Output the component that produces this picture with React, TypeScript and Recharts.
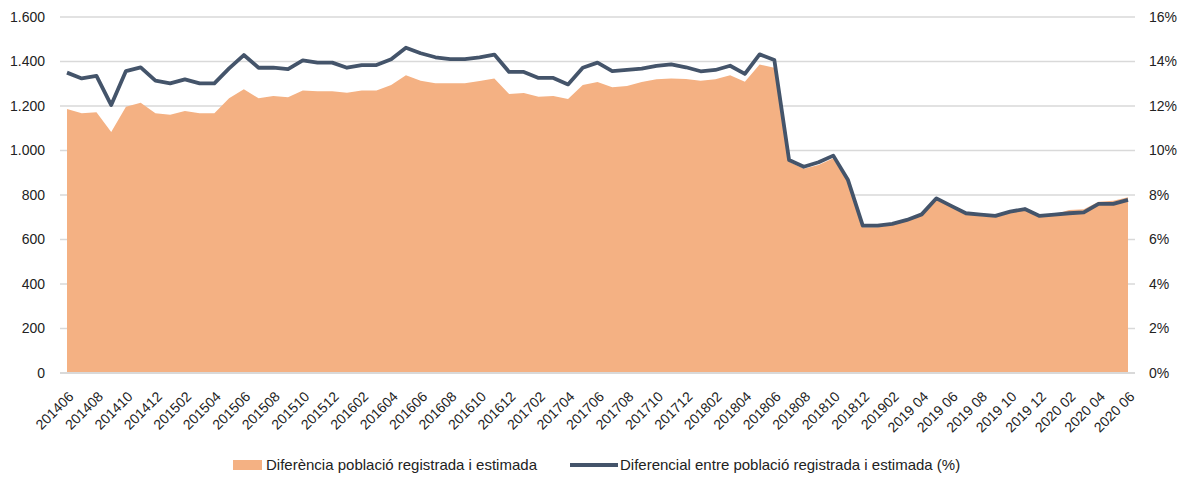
import { ComposedChart, Area, Line, XAxis, YAxis, CartesianGrid, Legend } from 'recharts';

const months = [
  '201406', '201407', '201408', '201409', '201410', '201411', '201412',
  '201501', '201502', '201503', '201504', '201505', '201506', '201507', '201508', '201509', '201510', '201511', '201512',
  '201601', '201602', '201603', '201604', '201605', '201606', '201607', '201608', '201609', '201610', '201611', '201612',
  '201701', '201702', '201703', '201704', '201705', '201706', '201707', '201708', '201709', '201710', '201711', '201712',
  '201801', '201802', '201803', '201804', '201805', '201806', '201807', '201808', '201809', '201810', '201811', '201812',
  '201901', '201902', '2019 03', '2019 04', '2019 05', '2019 06', '2019 07', '2019 08', '2019 09', '2019 10', '2019 11', '2019 12',
  '2020 01', '2020 02', '2020 03', '2020 04', '2020 05', '2020 06',
];

// Diferència població registrada i estimada (left axis)
const diffValues = [
  1186, 1167, 1172, 1083, 1197, 1215, 1167, 1161, 1178, 1167,
  1167, 1235, 1275, 1235, 1245, 1239, 1270, 1266, 1266, 1260,
  1270, 1270, 1294, 1338, 1314, 1302, 1302, 1302, 1312, 1324,
  1254, 1258, 1242, 1245, 1231, 1294, 1308, 1284, 1290, 1308,
  1320, 1324, 1321, 1314, 1320, 1338, 1309, 1387, 1372, 950,
  918, 935, 965, 860, 655, 655, 665, 683, 708, 780,
  745, 713, 706, 700, 720, 732, 702, 712, 733, 736,
  770, 774, 790,
];

// Diferencial entre població registrada i estimada, % (right axis)
const pctValues = [
  13.5, 13.24, 13.35, 12.04, 13.57, 13.74, 13.14, 13.02, 13.2, 13.02,
  13.02, 13.69, 14.29, 13.72, 13.72, 13.66, 14.05, 13.95, 13.95, 13.72,
  13.84, 13.84, 14.1, 14.62, 14.37, 14.19, 14.11, 14.11, 14.19, 14.31,
  13.53, 13.53, 13.26, 13.26, 12.97, 13.72, 13.95, 13.57, 13.62, 13.68,
  13.8, 13.87, 13.74, 13.56, 13.62, 13.81, 13.44, 14.32, 14.07, 9.57,
  9.27, 9.47, 9.77, 8.67, 6.62, 6.62, 6.7, 6.88, 7.13, 7.85,
  7.51, 7.18, 7.12, 7.06, 7.25, 7.37, 7.06, 7.12, 7.18, 7.22,
  7.6, 7.6, 7.78,
];

const leftTicks = [0, 200, 400, 600, 800, 1000, 1200, 1400, 1600];
const rightTicks = [0, 2, 4, 6, 8, 10, 12, 14, 16];

const AREA_LABEL = 'Diferència població registrada i estimada';
const LINE_LABEL = 'Diferencial entre població registrada i estimada (%)';

const data = months.map((m, i) => ({ month: m, diff: diffValues[i], pct: pctValues[i] }));

const FONT = "'Liberation Sans', Arial, sans-serif";
const ORANGE = '#F4B183';
const SLATE = '#44546A';

const fmtThousands = (v: number) => String(v).replace(/\B(?=(\d{3})+(?!\d))/g, '.');

function MonthTick(props: any) {
  const { x, y, payload } = props;
  return (
    <g transform={`translate(${x + 4},${y + 13})`}>
      <text
        transform="rotate(-45)"
        textAnchor="end"
        dy="0.35em"
        fontFamily={FONT}
        fontSize={14}
        fill="#222"
      >
        {payload.value}
      </text>
    </g>
  );
}

function LegendBox() {
  return (
    <div style={{ position: 'relative', width: 1188, height: 20, fontFamily: FONT, fontSize: 15, color: '#222' }}>
      <div style={{ position: 'absolute', left: 233, top: 5, width: 29, height: 10, background: ORANGE }} />
      <div style={{ position: 'absolute', left: 266, top: 1, whiteSpace: 'nowrap' }}>{AREA_LABEL}</div>
      <div style={{ position: 'absolute', left: 570, top: 8, width: 48, height: 4, background: SLATE }} />
      <div style={{ position: 'absolute', left: 620, top: 1, whiteSpace: 'nowrap' }}>{LINE_LABEL}</div>
    </div>
  );
}

export default function App() {
  return (
    <div style={{ position: 'absolute', left: 0, top: 0, background: '#fff' }}>
      <ComposedChart width={1188} height={479} data={data} margin={{ top: 17, right: 0, bottom: 4, left: 0 }}>
        <CartesianGrid vertical={false} stroke="#D9D9D9" strokeWidth={1.5} yAxisId="left" />
        <XAxis
          dataKey="month"
          interval={1}
          tick={<MonthTick />}
          tickLine={false}
          axisLine={{ stroke: '#D9D9D9', strokeWidth: 2 }}
          height={82}
          padding={{ left: 7, right: 7 }}
        />
        <YAxis
          yAxisId="left"
          orientation="left"
          width={60}
          domain={[0, 1600]}
          ticks={leftTicks}
          tickFormatter={fmtThousands}
          tickLine={false}
          axisLine={false}
          tickMargin={9}
          tick={{ fontFamily: FONT, fontSize: 14, fill: '#222' }}
        />
        <YAxis
          yAxisId="right"
          orientation="right"
          width={53}
          domain={[0, 16]}
          ticks={rightTicks}
          tickFormatter={(v: number) => `${v}%`}
          tickLine={false}
          axisLine={false}
          tickMargin={8}
          tick={{ fontFamily: FONT, fontSize: 14, fill: '#222', textAnchor: 'start' }}
        />
        <Legend verticalAlign="bottom" height={20} content={() => <LegendBox />} />
        <Area
          yAxisId="left"
          type="linear"
          dataKey="diff"
          name={AREA_LABEL}
          fill={ORANGE}
          fillOpacity={1}
          stroke="none"
          isAnimationActive={false}
        />
        <Line
          yAxisId="right"
          type="linear"
          dataKey="pct"
          name={LINE_LABEL}
          stroke={SLATE}
          strokeWidth={3.8}
          strokeLinejoin="round"
          dot={false}
          activeDot={false}
          isAnimationActive={false}
        />
      </ComposedChart>
    </div>
  );
}
